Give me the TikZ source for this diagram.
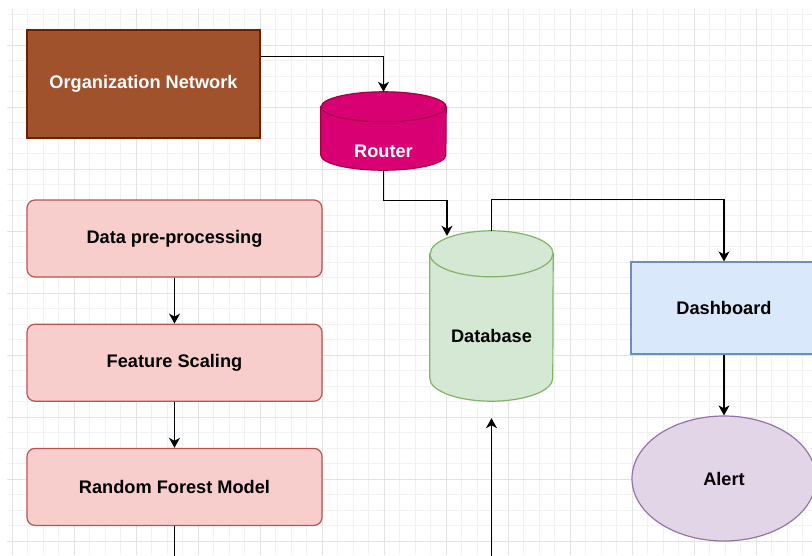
\documentclass[tikz,border=0pt]{standalone}
\usepackage{fontspec}
\setmainfont{Liberation Sans}
\usetikzlibrary{arrows.meta, positioning, shapes.geometric}

\pgfdeclarelayer{grid}
\pgfdeclarelayer{background}
\pgfsetlayers{grid,background,main}

\definecolor{netfill}{HTML}{A0522D}
\definecolor{netdraw}{HTML}{6D1F00}
\definecolor{routerfill}{HTML}{D80073}
\definecolor{routerdraw}{HTML}{A50040}
\definecolor{dbfill}{HTML}{D5E8D4}
\definecolor{dbdraw}{HTML}{82B366}
\definecolor{dashfill}{HTML}{DAE8FC}
\definecolor{dashdraw}{HTML}{6C8EBF}
\definecolor{alertfill}{HTML}{E1D5E7}
\definecolor{alertdraw}{HTML}{9673A6}
\definecolor{stagefill}{HTML}{F8CECC}
\definecolor{stagedraw}{HTML}{B85450}
\definecolor{gridlight}{HTML}{F2F2F2}
\definecolor{griddark}{HTML}{E3E3E3}

% cylinder drawn round a named node: name, style, x radius, y radius
\newcommand{\drum}[4]{%
  \filldraw[#2] ([yshift=-#4]#1.north west) -- ([yshift=#4]#1.south west)
    arc[start angle=180, end angle=360, x radius=#3, y radius=#4]
    -- ([yshift=-#4]#1.north east)
    arc[start angle=0, end angle=180, x radius=#3, y radius=#4] -- cycle;
  \draw[#2] ([yshift=-#4]#1.north west)
    arc[start angle=180, end angle=360, x radius=#3, y radius=#4];
}

\begin{document}
\begin{tikzpicture}[x=1pt, y=1pt,
  every node/.style={font=\bfseries\fontsize{18.2}{22}\selectfont},
  box/.style={draw, line width=1.2pt, inner sep=0pt},
  stage/.style={box, rounded corners=8pt, fill=stagefill, draw=stagedraw,
    minimum width=295pt, minimum height=77pt},
  drumbox/.style={rectangle, inner sep=0pt},
  flow/.style={line width=1.2pt, -{Stealth[length=10pt, width=11pt, inset=3pt]}},
  link/.style={line width=1.2pt},
  gridminor/.style={draw=gridlight, line width=1pt},
  gridmajor/.style={draw=griddark, line width=1pt},
  node distance=46pt]

  \useasboundingbox (0,0) rectangle (812,-555);
  \clip (0,0) rectangle (812,-555);

  % === GRID ===
  \begin{pgfonlayer}{grid}
    \foreach \k in {0,...,51}
      \draw[gridminor] ({12+15.5*\k},-9) -- ({12+15.5*\k},-555);
    \foreach \k in {0,...,34}
      \draw[gridminor] (7,{-14-15.5*\k}) -- (812,{-14-15.5*\k});
    \foreach \k in {0,...,12}
      \draw[gridmajor] ({12+62*\k},-9) -- ({12+62*\k},-555);
    \foreach \k in {0,...,8}
      \draw[gridmajor] (7,{-45-62*\k}) -- (812,{-45-62*\k});
  \end{pgfonlayer}

  % === NETWORK SIDE ===
  \node[box, fill=netfill, draw=netdraw, text=white,
    minimum width=233pt, minimum height=108pt] (orgnet) at (143.5,-84) {Organization Network};

  \node[drumbox, minimum width=125pt, minimum height=78pt,
    label={[text=white, yshift=-20pt]center:Router}] (router) at (383.5,-131) {};

  \node[drumbox, minimum width=123pt, minimum height=170pt,
    label={[yshift=-20pt]center:Database}] (database) at (491.5,-316) {};

  \begin{pgfonlayer}{background}
    \drum{router}{fill=routerfill, draw=routerdraw, line width=1.2pt}{62.5pt}{15pt}
    \drum{database}{fill=dbfill, draw=dbdraw, line width=1.2pt}{61.5pt}{23pt}
  \end{pgfonlayer}

  \node[box, fill=dashfill, draw=dashdraw,
    minimum width=186pt, minimum height=92pt] (dashboard) at (724,-308) {Dashboard};

  \node[box, ellipse, fill=alertfill, draw=alertdraw,
    minimum width=184pt, minimum height=125pt] (alert) at (724,-478.5) {Alert};

  % === MODEL SIDE ===
  \node[stage] (prep) at (174.5,-238.5) {Data pre-processing};
  \node[stage, below=of prep] (scaling) {Feature Scaling};
  \node[stage, below=of scaling] (rfmodel) {Random Forest Model};

  % Connectors
  \draw[flow] ([yshift=-27pt]orgnet.north east) -| (router.north);
  \draw[flow] (router.south) -- ++(0,-30) -| ([xshift=-44.5pt, yshift=-5pt]database.north);
  \draw[flow] (database.north) -- ++(0,31) -| (dashboard.north);
  \draw[flow] (dashboard) -- (alert);

  \draw[flow] (prep) -- (scaling);
  \draw[flow] (scaling) -- (rfmodel);

  \coordinate (rfout) at (174.5,-560);
  \coordinate (feed) at (491.5,-560);
  \draw[link] (rfmodel) -- (rfout);
  \draw[flow] (feed) -- ([yshift=-17pt]database.south);
\end{tikzpicture}
\end{document}
